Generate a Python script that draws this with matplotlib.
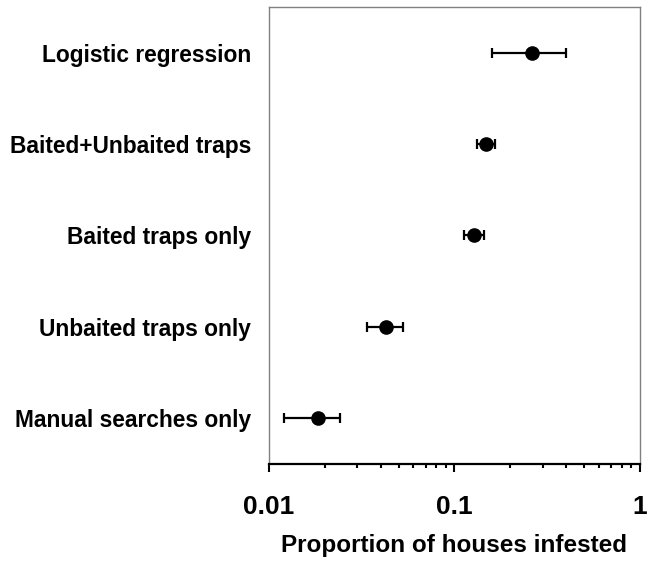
import matplotlib.pyplot as plt
import numpy as np

plt.rcParams['font.family'] = ['Liberation Sans', 'DejaVu Sans']
plt.rcParams['font.weight'] = 'bold'

# data
methods = ["Logistic regression", "Baited+Unbaited traps", "Baited traps only",
           "Unbaited traps only", "Manual searches only"]
estimate = [0.262, 0.148, 0.127, 0.0429, 0.0184]
lower = [0.160, 0.132, 0.112, 0.0336, 0.0121]
upper = [0.399, 0.165, 0.144, 0.0526, 0.0243]

est = np.array(estimate)
xerr = [est - np.array(lower), np.array(upper) - est]
ypos = np.arange(len(methods))

fig = plt.figure(figsize=(6.51, 5.68), dpi=100)
ax = fig.add_axes([0.413, 0.183, 0.570, 0.805])

ax.errorbar(est, ypos, xerr=xerr, fmt='o', color='black', markersize=9.5,
            elinewidth=1.6, capsize=3.6, capthick=1.6)

ax.set_xscale('log')
ax.set_xlim(0.01, 1)
ax.set_ylim(len(methods) - 0.5, -0.5)
ax.set_yticks(ypos)
ax.set_yticklabels(methods, fontsize=16.4, fontweight='bold')
ax.tick_params(axis='y', length=0, pad=13)

ax.set_xticks([0.01, 0.1, 1])
ax.set_xticklabels(["0.01", "0.1", "1"], fontsize=19, fontweight='bold')
ax.tick_params(axis='x', which='major', length=6, width=1.5, pad=16, color='black')
ax.tick_params(axis='x', which='minor', length=3, width=1.5, color='black')

for side in ['left', 'top', 'right']:
    ax.spines[side].set_color('#808080')
    ax.spines[side].set_linewidth(1.0)
ax.spines['bottom'].set_color('black')
ax.spines['bottom'].set_linewidth(1.6)

ax.set_xlabel("Proportion of houses infested", fontsize=17.5, fontweight='bold',
              labelpad=11)

fig.savefig("out.png", dpi=100)
